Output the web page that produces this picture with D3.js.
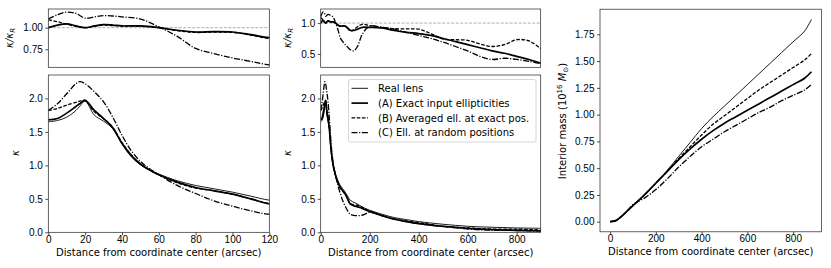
<!DOCTYPE html>
<html>
<head>
<meta charset="utf-8">
<script src="https://cdn.jsdelivr.net/npm/d3@7"></script>
<style>
  body { margin: 0; background: #fff; }
  svg { display: block; font-family: "DejaVu Sans", sans-serif; }
</style>
</head>
<body>
<svg id="chart" width="831" height="268"></svg>
<script>
// ---- data ----
// convergence ratio kappa / kappa_R
const ratioX = [0, 5, 10, 15, 20, 25, 30, 35, 40, 50, 60, 70, 80, 90, 100, 110, 120, 135, 150, 170, 200, 250, 300, 350, 400, 450, 500, 550, 600, 650, 700, 750, 800, 850, 900];
const ratioA = [1.00, 1.03, 1.045, 1.02, 1.00, 1.02, 1.035, 1.03, 1.02, 1.02, 1.00, 0.97, 0.95, 0.955, 0.95, 0.92, 0.885, 0.88, 0.90, 0.93, 0.93, 0.92, 0.88, 0.85, 0.83, 0.80, 0.75, 0.70, 0.65, 0.60, 0.55, 0.51, 0.46, 0.41, 0.35];
const ratioB = [1.09, 1.07, 1.04, 1.015, 1.00, 1.015, 1.03, 1.025, 1.02, 1.015, 1.00, 0.965, 0.945, 0.95, 0.945, 0.915, 0.875, 0.89, 0.94, 0.98, 0.96, 0.93, 0.91, 0.905, 0.90, 0.83, 0.74, 0.73, 0.72, 0.66, 0.62, 0.65, 0.73, 0.71, 0.58];
const ratioC = [1.10, 1.15, 1.18, 1.165, 1.11, 1.125, 1.14, 1.135, 1.125, 1.10, 1.01, 0.90, 0.76, 0.70, 0.65, 0.61, 0.57, 0.55, 0.62, 0.82, 0.95, 0.93, 0.90, 0.85, 0.80, 0.75, 0.69, 0.62, 0.55, 0.46, 0.41, 0.43, 0.41, 0.38, 0.34];

// convergence kappa
const kapX    = [0, 5, 10, 15, 17, 20, 25, 30, 35, 40, 45, 50, 55, 60, 70, 80, 90, 100, 110, 120, 140, 160, 180, 200, 250, 300, 350, 400, 500, 600, 700, 800, 900];
const kapReal = [1.65, 1.67, 1.72, 1.82, 1.88, 1.96, 1.75, 1.66, 1.55, 1.32, 1.13, 1.01, 0.93, 0.87, 0.77, 0.70, 0.65, 0.60, 0.54, 0.48, 0.44, 0.40, 0.36, 0.33, 0.27, 0.22, 0.19, 0.16, 0.12, 0.09, 0.075, 0.065, 0.06];
const kapA    = [1.68, 1.70, 1.78, 1.88, 1.92, 1.97, 1.82, 1.70, 1.56, 1.33, 1.15, 1.02, 0.93, 0.86, 0.75, 0.67, 0.62, 0.57, 0.50, 0.425, 0.39, 0.37, 0.34, 0.31, 0.25, 0.195, 0.16, 0.13, 0.09, 0.06, 0.04, 0.03, 0.02];
const kapB    = [1.82, 1.85, 1.90, 1.94, 1.96, 1.97, 1.80, 1.70, 1.57, 1.34, 1.16, 1.02, 0.93, 0.86, 0.74, 0.66, 0.62, 0.57, 0.50, 0.43, 0.41, 0.39, 0.35, 0.32, 0.25, 0.20, 0.17, 0.145, 0.09, 0.065, 0.047, 0.048, 0.035];
const kapC    = [1.82, 1.92, 2.07, 2.22, 2.25, 2.22, 2.10, 1.95, 1.72, 1.45, 1.22, 1.06, 0.95, 0.86, 0.70, 0.58, 0.47, 0.39, 0.32, 0.27, 0.25, 0.25, 0.27, 0.30, 0.25, 0.20, 0.16, 0.13, 0.085, 0.05, 0.03, 0.027, 0.02];

// interior mass (10^16 Msun)
const massX    = [0, 25, 50, 75, 100, 150, 200, 250, 300, 350, 400, 450, 500, 550, 600, 650, 700, 750, 800, 850, 880];
const massReal = [0, 0.01, 0.05, 0.10, 0.15, 0.25, 0.36, 0.48, 0.61, 0.74, 0.87, 0.98, 1.08, 1.18, 1.28, 1.38, 1.48, 1.58, 1.68, 1.78, 1.89];
const massA    = [0, 0.01, 0.05, 0.10, 0.15, 0.25, 0.36, 0.47, 0.58, 0.68, 0.77, 0.85, 0.92, 0.98, 1.04, 1.10, 1.16, 1.22, 1.28, 1.34, 1.40];
const massB    = [0, 0.01, 0.05, 0.10, 0.15, 0.25, 0.36, 0.47, 0.59, 0.70, 0.81, 0.91, 0.99, 1.07, 1.15, 1.23, 1.30, 1.37, 1.44, 1.51, 1.57];
const massC    = [0, 0.01, 0.05, 0.10, 0.16, 0.22, 0.30, 0.40, 0.51, 0.61, 0.70, 0.77, 0.84, 0.90, 0.96, 1.02, 1.07, 1.13, 1.18, 1.23, 1.28];

const legendLabels = ['Real lens', '(A) Exact input ellipticities', '(B) Averaged ell. at exact pos.', '(C) Ell. at random positions'];
const xLabel = 'Distance from coordinate center (arcsec)';

// ---- styles ----
const fs = 10;
const styleOf = {
  real: { w: 0.9, dash: null },
  A:    { w: 1.7, dash: null },
  B:    { w: 1.3, dash: '3.6,1.6' },
  C:    { w: 1.3, dash: '6,1.6,1.2,1.6' }
};

const svg = d3.select('#chart');
let clipId = 0;

function panel(box, xDom, yDom, yTicks, yFmt, xTicks) {
  const x = d3.scaleLinear().domain(xDom).range([box.x0, box.x1]);
  const y = d3.scaleLinear().domain(yDom).range([box.y1, box.y0]);
  const id = 'clip' + (clipId++);
  svg.append('clipPath').attr('id', id)
    .append('rect')
    .attr('x', box.x0).attr('y', box.y0)
    .attr('width', box.x1 - box.x0).attr('height', box.y1 - box.y0);
  const g = svg.append('g');
  const plot = g.append('g').attr('clip-path', 'url(#' + id + ')');

  const ya = g.append('g').attr('transform', 'translate(' + box.x0 + ',0)')
    .call(d3.axisLeft(y).tickValues(yTicks).tickFormat(d3.format(yFmt)).tickSize(3).tickPadding(2.5));
  ya.select('.domain').remove();
  ya.selectAll('text').style('font-size', fs + 'px').attr('fill', '#000');
  ya.selectAll('line').attr('stroke-width', 0.7);

  if (xTicks) {
    const xa = g.append('g').attr('transform', 'translate(0,' + box.y1 + ')')
      .call(d3.axisBottom(x).tickValues(xTicks).tickSize(3).tickPadding(0.5));
    xa.select('.domain').remove();
    xa.selectAll('text').style('font-size', fs + 'px').attr('fill', '#000');
    xa.selectAll('line').attr('stroke-width', 0.7);
    g.append('text')
      .attr('x', (box.x0 + box.x1) / 2).attr('y', box.y1 + 23.5)
      .attr('text-anchor', 'middle')
      .style('font-size', fs + 'px')
      .text(xLabel);
  }

  g.append('rect')
    .attr('x', box.x0).attr('y', box.y0)
    .attr('width', box.x1 - box.x0).attr('height', box.y1 - box.y0)
    .attr('fill', 'none').attr('stroke', '#222').attr('stroke-width', 0.7);

  return { x, y, plot, g };
}

function drawLine(p, xs, ys, key) {
  const line = d3.line()
    .x((d, i) => p.x(xs[i]))
    .y(d => p.y(d))
    .curve(d3.curveCatmullRom.alpha(0.5));
  const st = styleOf[key];
  p.plot.append('path')
    .attr('d', line(ys))
    .attr('fill', 'none')
    .attr('stroke', '#000')
    .attr('stroke-width', st.w)
    .attr('stroke-dasharray', st.dash);
}

function refLine(p, v) {
  p.plot.append('line')
    .attr('x1', p.x.range()[0]).attr('x2', p.x.range()[1])
    .attr('y1', p.y(v)).attr('y2', p.y(v))
    .attr('stroke', '#999').attr('stroke-width', 0.8)
    .attr('stroke-dasharray', '3,1.5');
}

function kappaLabel(g, xPos, yPos, withRatio) {
  const t = g.append('text')
    .attr('transform', 'translate(' + xPos + ',' + yPos + ') rotate(-90)')
    .attr('text-anchor', 'middle')
    .style('font-size', fs + 'px');
  if (withRatio) {
    t.append('tspan').style('font-style', 'italic').text('κ/κ');
    t.append('tspan').style('font-style', 'italic').style('font-size', (fs * 0.7) + 'px').attr('dy', 2).text('R');
  } else {
    t.append('tspan').style('font-style', 'italic').text('κ');
  }
}

// ---- left column (0-120 arcsec) ----
const lt = panel({ x0: 48.3, x1: 269.3, y0: 9, y1: 67.3 }, [0, 120], [0.542, 1.216], [0.75, 1.00], '.2f', null);
refLine(lt, 1);
drawLine(lt, ratioX, ratioC, 'C');
drawLine(lt, ratioX, ratioB, 'B');
drawLine(lt, ratioX, ratioA, 'A');
kappaLabel(lt.g, 13, 38, true);

const lb = panel({ x0: 48.3, x1: 269.3, y0: 75, y1: 232.3 }, [0, 120], [0, 2.35], [0, 0.5, 1, 1.5, 2], '.1f', [0, 20, 40, 60, 80, 100, 120]);
drawLine(lb, kapX, kapC, 'C');
drawLine(lb, kapX, kapB, 'B');
drawLine(lb, kapX, kapReal, 'real');
drawLine(lb, kapX, kapA, 'A');
kappaLabel(lb.g, 19, 153, false);

// ---- middle column (0-900 arcsec) ----
const mt = panel({ x0: 320.7, x1: 540.7, y0: 9, y1: 67.3 }, [0, 898], [0.283, 1.228], [0.5, 1.0], '.1f', null);
refLine(mt, 1);
drawLine(mt, ratioX, ratioC, 'C');
drawLine(mt, ratioX, ratioB, 'B');
drawLine(mt, ratioX, ratioA, 'A');
kappaLabel(mt.g, 291, 38, true);

const mb = panel({ x0: 320.7, x1: 540.7, y0: 75, y1: 232.3 }, [0, 898], [0, 2.35], [0, 0.5, 1, 1.5, 2], '.1f', [0, 200, 400, 600, 800]);
drawLine(mb, kapX, kapC, 'C');
drawLine(mb, kapX, kapB, 'B');
drawLine(mb, kapX, kapReal, 'real');
drawLine(mb, kapX, kapA, 'A');
kappaLabel(mb.g, 291, 153, false);

// legend
const lg = mb.g.append('g');
lg.append('rect')
  .attr('x', 348.5).attr('y', 79.5).attr('width', 187.5).attr('height', 62.5).attr('rx', 2)
  .attr('fill', '#fff').attr('fill-opacity', 0.85)
  .attr('stroke', '#ccc').attr('stroke-width', 0.8);
['real', 'A', 'B', 'C'].forEach((k, i) => {
  const cy = 88.3 + i * 14.8;
  lg.append('line')
    .attr('x1', 351.5).attr('x2', 368).attr('y1', cy).attr('y2', cy)
    .attr('stroke', '#000').attr('stroke-width', styleOf[k].w)
    .attr('stroke-dasharray', styleOf[k].dash);
  lg.append('text')
    .attr('x', 378).attr('y', cy + 3.6)
    .style('font-size', fs + 'px')
    .text(legendLabels[i]);
});

// ---- right column: interior mass ----
const rp = panel({ x0: 600, x1: 821.5, y0: 9.2, y1: 231.8 }, [-44, 924], [-0.0945, 1.9845],
  [0, 0.25, 0.5, 0.75, 1.0, 1.25, 1.5, 1.75], '.2f', [0, 200, 400, 600, 800]);
drawLine(rp, massX, massC, 'C');
drawLine(rp, massX, massB, 'B');
drawLine(rp, massX, massReal, 'real');
drawLine(rp, massX, massA, 'A');

const ml = rp.g.append('text')
  .attr('transform', 'translate(566,121) rotate(-90)')
  .attr('text-anchor', 'middle')
  .style('font-size', fs + 'px');
ml.append('tspan').text('Interior mass (10');
ml.append('tspan').attr('dy', -4).style('font-size', (fs * 0.7) + 'px').text('16');
ml.append('tspan').attr('dy', 4).text(' ');
ml.append('tspan').style('font-style', 'italic').text('M');
ml.append('tspan').attr('dy', 2).style('font-size', (fs * 0.7) + 'px').text('⊙');
ml.append('tspan').attr('dy', -2).text(')');
</script>
</body>
</html>
